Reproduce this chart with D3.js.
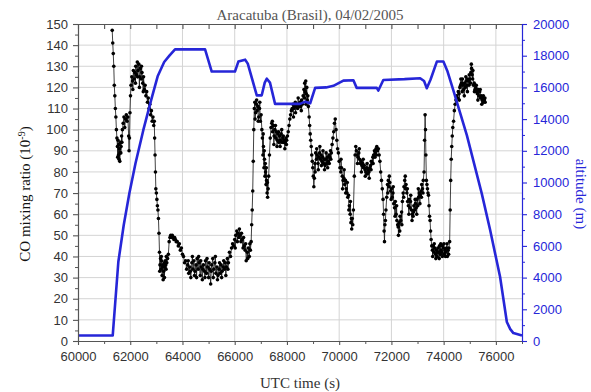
<!DOCTYPE html>
<html>
<head>
<meta charset="utf-8">
<script src="https://cdn.jsdelivr.net/npm/d3@7"></script>
<style>
  body { margin: 0; background: #fff; }
  .tick text { font-family: "Liberation Sans", Arial, sans-serif; font-size: 13px; }
</style>
</head>
<body>
<svg id="chart" width="591" height="392"></svg>
<script>
// axis ranges and tick labels
const timeDomain = [60000, 77000];
const coDomain = [0, 150];
const altDomain = [0, 20000];
const timeTicks = [60000, 62000, 64000, 66000, 68000, 70000, 72000, 74000, 76000];
const timeMinor = [61000, 63000, 65000, 67000, 69000, 71000, 73000, 75000, 77000];
const coTicks = [0, 10, 20, 30, 40, 50, 60, 70, 80, 90, 100, 110, 120, 130, 140, 150];
const coMinor = [5, 15, 25, 35, 45, 55, 65, 75, 85, 95, 105, 115, 125, 135, 145];
const altTicks = [0, 2000, 4000, 6000, 8000, 10000, 12000, 14000, 16000, 18000, 20000];
const altMinor = [1000, 3000, 5000, 7000, 9000, 11000, 13000, 15000, 17000, 19000];

// flight altitude (m) vs UTC time (s)
const altitude = [
  [60000, 350], [61330, 350], [61545, 5000], [61750, 7300], [61965, 9300], [62200, 11200],
  [62500, 13300], [62800, 15200], [63050, 16700], [63300, 17600], [63500, 18000], [63715, 18400],
  [64865, 18400], [65120, 17000], [66010, 17000], [66140, 17630], [66400, 17750], [66500, 17500],
  [66845, 15500], [67035, 15500], [67150, 16300], [67230, 16550], [67350, 16300], [67545, 14960],
  [68500, 14960], [68700, 15100], [68890, 15000], [69080, 15970], [69500, 16000], [69780, 16100],
  [70160, 16430], [70545, 16450], [70670, 15970], [71440, 15970], [71500, 15800], [71690, 16470],
  [72500, 16520], [73100, 16580], [73250, 16400], [73355, 15950], [73500, 16500], [73740, 17630],
  [73990, 17630], [74150, 17000], [74375, 15800], [74890, 12970], [75460, 9300], [75780, 7000],
  [76160, 4050], [76420, 1200], [76550, 750], [76670, 500], [77000, 350]
];

// CO mixing ratio (1e-9) vs UTC time (s)
const coSeries = [
  [61310,147],[61330,141],[61350,136],[61370,130],[61390,121],[61410,116],[61430,110],[61450,106],[61470,100],[61490,96],
  [61510,92],[61530,95],[61550,88],[61570,86],[61590,91],[61610,89],[61630,94],[61650,92],[61670,97],
  [61700,100],[61730,103],[61760,106],[61790,101],[61820,105],[61850,107],[61880,104],[61910,106],
  [61940,97],[61955,90],[61970,96],
  [61990,108],[62010,116],[62030,121],[62060,125],[62090,123],[62120,128],[62150,124],[62180,127],[62210,130],[62240,126],
  [62270,132],[62300,128],[62330,131],[62360,125],[62390,129],[62420,124],[62450,127],
  [62480,122],[62510,125],[62540,119],[62570,121],[62600,116],[62630,118],[62660,113],[62690,115],[62720,110],[62750,112],
  [62780,107],[62810,109],[62840,104],[62870,106],[62900,102],[62920,104],
  [62935,96],[62950,88],[62965,80],[62980,72],[63000,70],[63020,67],[63040,64],[63060,62],[63080,58],[63100,51],
  [63120,42],[63140,36],[63160,39],[63180,34],[63200,38],[63220,31],[63240,35],[63260,29],[63280,33],[63300,37],
  [63320,35],[63340,38],[63360,36],[63380,40],[63400,37],[63430,39],[63460,41],
  [63490,47],[63520,49],[63550,50],[63580,49],[63610,50],[63640,49],[63670,48],[63700,49],[63730,48],[63760,47],[63800,47],
  [63840,45],[63880,46],[63920,43],[63960,44],[64000,41],[64040,40],[64080,37],[64120,38],[64160,34],[64200,36],
  [64240,32],[64280,35],[64320,30],[64360,37],[64400,34],[64440,38],[64480,33],[64520,36],[64560,39],[64600,34],
  [64640,37],[64680,31],[64720,35],[64760,29],[64800,36],[64840,33],[64880,38],[64920,32],[64960,35],[65000,30],
  [65040,34],[65080,27],[65120,36],[65160,39],[65200,34],[65240,37],[65280,32],[65320,35],[65360,31],[65400,34],
  [65440,32],[65480,36],[65520,33],[65560,35],[65600,34],[65640,37],[65680,35],[65720,39],[65760,37],[65800,42],
  [65840,40],[65880,44],[65920,46],[65960,45],[66000,48],[66040,50],[66080,52],[66120,51],[66160,49],[66200,50],
  [66240,47],[66280,48],[66320,44],[66360,45],[66400,43],[66440,38],[66480,42],[66520,44],[66560,40],[66600,43],
  [66630,47],[66650,55],[66670,62],[66690,71],
  [66710,85],[66730,100],[66750,110],[66770,113],[66800,108],[66830,112],[66860,109],[66890,111],[66920,106],[66950,110],
  [66980,104],[67010,107],
  [67040,100],[67060,96],[67080,88],[67100,92],[67120,82],[67140,86],[67160,78],[67180,80],[67200,74],[67220,76],
  [67240,70],[67260,68],[67280,72],[67300,78],
  [67330,88],[67360,96],[67390,101],[67420,103],[67450,99],[67480,102],[67510,97],[67540,100],[67570,96],[67600,99],
  [67630,95],[67660,98],[67690,94],[67720,97],[67750,95],[67780,98],[67810,94],[67840,96],[67870,94],[67900,95],
  [67930,94],[67960,96],[67990,95],[68020,97],[68050,99],
  [68080,102],[68110,105],[68140,107],[68170,109],[68200,110],[68230,112],[68260,110],[68290,111],[68320,113],[68350,111],
  [68380,112],[68410,110],[68440,112],[68470,111],[68500,113],[68530,111],[68560,114],[68590,112],[68620,116],[68650,119],
  [68680,122],[68700,118],[68720,123],[68740,117],[68760,120],[68780,114],[68800,116],[68820,111],
  [68850,106],[68870,102],[68890,98],[68910,95],[68930,92],[68950,88],[68970,85],[68990,82],[69010,78],[69030,73],[69050,77],
  [69070,84],[69100,89],[69130,86],[69160,88],[69190,84],[69220,87],[69250,89],[69280,86],[69310,88],[69340,85],
  [69370,87],[69400,84],[69430,86],[69460,83],[69490,86],[69520,84],[69550,87],[69580,85],[69610,88],[69640,87],
  [69670,90],[69700,89],[69730,93],
  [69760,96],[69790,99],[69820,103],[69850,105],[69880,100],[69910,95],[69940,91],[69970,89],[70000,85],[70030,82],
  [70060,80],[70090,82],[70120,78],[70150,76],[70180,77],[70210,74],[70240,76],[70270,72],[70300,70],[70330,68],
  [70360,69],[70390,64],[70420,60],[70450,56],[70480,53],[70500,58],[70520,55],[70545,62],
  [70580,78],[70610,88],[70635,92],[70660,90],[70690,88],[70720,87],[70750,89],[70780,86],[70810,84],[70840,85],
  [70870,83],[70900,84],[70930,82],[70960,83],[70990,81],[71020,80],[71050,82],[71080,79],[71110,81],[71140,80],
  [71170,82],[71200,83],[71230,85],[71260,84],[71290,87],[71320,88],[71350,90],[71380,89],[71410,91],[71440,92],
  [71470,90],[71500,91],[71530,88],[71560,85],[71590,80],[71620,76],
  [71650,72],[71680,67],[71700,60],[71720,52],[71735,47],[71750,55],[71770,57],[71790,62],
  [71820,68],[71850,74],[71880,76],[71910,73],[71940,75],[71970,71],[72000,72],[72030,68],[72060,70],[72090,65],
  [72120,63],[72150,66],[72180,60],[72210,57],[72240,55],[72270,50],[72300,56],[72330,59],[72360,57],[72390,61],
  [72420,66],[72450,70],[72480,73],[72510,76],[72530,78],[72560,74],[72590,70],[72620,66],[72650,64],[72680,67],
  [72710,63],[72740,69],[72770,62],[72800,60],[72830,59],[72860,64],[72890,62],[72920,65],[72950,63],[72980,67],
  [73010,64],[73040,68],[73070,70],[73100,69],[73130,71],[73160,74],[73190,72],[73220,76],[73250,80],
  [73270,95],[73290,107],[73305,100],[73320,88],[73340,76],[73360,74],[73380,72],[73400,70],[73420,69],[73440,64],
  [73460,59],[73480,57],[73500,52],[73520,48],[73545,45],
  [73570,43],[73600,45],[73630,42],[73660,44],[73690,41],[73720,43],[73750,40],[73780,44],[73810,42],[73840,45],
  [73870,41],[73900,43],[73930,42],[73960,45],[73990,44],[74020,41],[74050,43],[74080,42],[74110,44],[74140,40],
  [74170,43],[74200,44],[74230,47],
  [74250,62],[74270,76],[74290,86],[74310,92],[74330,97],[74350,101],[74380,104],[74410,109],[74440,112],[74470,114],
  [74500,116],[74530,115],[74560,118],[74590,117],[74620,120],[74650,121],[74680,122],[74710,118],[74740,121],[74770,119],
  [74800,122],[74830,120],[74860,123],[74890,121],[74920,124],[74950,123],[74980,126],[75010,124],[75040,127],[75070,129],
  [75090,126],[75110,124],[75140,121],[75170,122],[75200,119],[75230,120],[75260,118],[75290,117],[75320,119],[75350,116],
  [75380,118],[75410,115],[75440,116],[75470,114],[75500,115],[75530,113],[75560,114],[75590,113]
];

// extra CO samples read from the noisier stretches
const coExtra = [
  [61520,87],[61560,93],[61600,85],[61640,89],[61680,94],
  [62100,119],[62200,122],[62280,125],[62350,120],[62430,130],[62500,118],
  [63130,33],[63190,40],[63250,36],[63310,30],[63370,34],
  [64220,38],[64300,33],[64380,40],[64460,31],[64540,30],[64620,40],[64700,38],[64780,34],[64860,30],[64940,39],
  [65020,37],[65100,33],[65180,30],[65260,40],[65340,29],[65420,37],[65500,30],[65580,38],[65660,31],[65740,34],
  [66020,44],[66100,47],[66180,53],[66260,51],[66340,49],[66420,46],[66500,39],[66580,46],
  [66780,105],[66840,114],[66900,104],[66960,113],
  [67090,98],[67130,90],[67170,84],[67210,82],[67250,75],
  [67440,104],[67500,93],[67560,102],[67620,92],[67680,99],[67740,92],[67800,100],[67860,97],[67920,91],[67980,93],
  [68250,106],[68330,108],[68430,115],[68550,109],[68670,115],[68730,112],
  [69080,80],[69140,91],[69200,81],[69260,92],[69320,83],[69380,90],[69440,81],[69500,89],[69560,82],[69620,84],[69680,86],
  [70070,86],[70130,72],[70190,81],[70250,70],[70310,75],[70370,62],[70430,66],[70470,58],
  [70700,84],[70770,91],[70850,80],[70920,86],[71000,78],[71070,84],[71150,77],[71220,81],[71300,84],[71370,87],[71430,88],
  [71860,70],[71920,78],[71990,67],[72070,73],[72140,59],[72200,64],[72260,54],[72320,52],[72400,55],[72470,68],
  [72540,72],[72610,72],[72670,60],[72730,66],[72790,57],[72850,61],[72910,67],[72970,60],[73030,72],[73090,65],
  [73150,68],[73210,70],
  [73580,40],[73640,46],[73700,39],[73770,42],[73830,39],[73890,46],[73950,40],[74010,46],[74070,40],[74130,46],[74190,41],
  [74600,114],[74660,124],[74720,124],[74790,116],[74850,125],[74910,118],[74970,121],[75030,122],[75060,131],[75120,128],
  [75180,118],[75250,121],[75310,114],[75400,119],[75460,112],[75520,116],[75580,115]
];

const coAll = coSeries.concat(coExtra).sort((a, b) => a[0] - b[0]);

const svg = d3.select('#chart');
const mLeft = 78, mRight = 522, mTop = 24, mBottom = 341;
const blue = '#2626d8';

const x = d3.scaleLinear().domain(timeDomain).range([mLeft, mRight]);
const yCO = d3.scaleLinear().domain(coDomain).range([mBottom, mTop]);
const yAlt = d3.scaleLinear().domain(altDomain).range([mBottom, mTop]);

// grid
svg.append('g').selectAll('line').data(coTicks.slice(1, -1)).enter().append('line')
  .attr('x1', mLeft).attr('x2', mRight)
  .attr('y1', d => yCO(d)).attr('y2', d => yCO(d))
  .attr('stroke', '#d4d4d4').attr('stroke-width', 1);
svg.append('g').selectAll('line').data(timeTicks.slice(1)).enter().append('line')
  .attr('y1', mTop).attr('y2', mBottom)
  .attr('x1', d => x(d)).attr('x2', d => x(d))
  .attr('stroke', '#d4d4d4').attr('stroke-width', 1);

// CO data: thin line plus dots
const coLine = d3.line().x(d => x(d[0])).y(d => yCO(d[1]));
svg.append('path').datum(coAll)
  .attr('d', coLine).attr('fill', 'none')
  .attr('stroke', '#111').attr('stroke-width', 0.8);
svg.append('g').selectAll('circle').data(coAll).enter().append('circle')
  .attr('cx', d => x(d[0])).attr('cy', d => yCO(d[1]))
  .attr('r', 1.8).attr('fill', '#000');

// altitude
const altLine = d3.line().x(d => x(d[0])).y(d => yAlt(d[1]));
svg.append('path').datum(altitude)
  .attr('d', altLine).attr('fill', 'none')
  .attr('stroke', blue).attr('stroke-width', 2.6)
  .attr('stroke-linejoin', 'round');

// axes
function styleAxis(g, color, textColor) {
  g.select('.domain').attr('stroke', color).attr('stroke-width', 1.2);
  g.selectAll('.tick line').attr('stroke', color).attr('stroke-width', 1.1);
  g.selectAll('.tick text').attr('fill', textColor);
}

svg.append('g').attr('transform', `translate(${mLeft},0)`)
  .call(d3.axisLeft(yCO).tickValues(coMinor).tickSize(3).tickFormat(''))
  .call(g => { g.select('.domain').remove(); g.selectAll('line').attr('stroke', '#555'); });
svg.append('g').attr('transform', `translate(${mLeft},0)`)
  .call(d3.axisLeft(yCO).tickValues(coTicks).tickSize(5).tickPadding(5).tickSizeOuter(0))
  .call(g => styleAxis(g, '#555', '#333'));

svg.append('g').attr('transform', `translate(0,${mBottom})`)
  .call(d3.axisBottom(x).tickValues(timeMinor).tickSize(3).tickFormat(''))
  .call(g => { g.select('.domain').remove(); g.selectAll('line').attr('stroke', '#555'); });
svg.append('g').attr('transform', `translate(0,${mBottom})`)
  .call(d3.axisBottom(x).tickValues(timeTicks).tickSize(4).tickPadding(7).tickSizeOuter(0).tickFormat(d3.format('d')))
  .call(g => styleAxis(g, '#555', '#333'));

svg.append('g').attr('transform', `translate(0,${mTop})`)
  .call(d3.axisTop(x).tickValues(timeMinor.concat(timeTicks)).tickSize(-5).tickSizeOuter(0).tickFormat(''))
  .call(g => styleAxis(g, '#555', '#333'));

svg.append('g').attr('transform', `translate(${mRight},0)`)
  .call(d3.axisRight(yAlt).tickValues(altMinor).tickSize(3).tickFormat(''))
  .call(g => { g.select('.domain').remove(); g.selectAll('line').attr('stroke', blue); });
svg.append('g').attr('transform', `translate(${mRight},0)`)
  .call(d3.axisRight(yAlt).tickValues(altTicks).tickSize(5).tickPadding(6).tickSizeOuter(0).tickFormat(d3.format('d')))
  .call(g => styleAxis(g, blue, blue));

// titles
const serif = '"Liberation Serif", "Times New Roman", serif';
svg.append('text').attr('x', 310).attr('y', 20).attr('text-anchor', 'middle')
  .attr('font-family', serif).attr('font-size', 15).attr('fill', '#555')
  .text('Aracatuba (Brasil), 04/02/2005');

svg.append('text').attr('x', 300).attr('y', 388).attr('text-anchor', 'middle')
  .attr('font-family', serif).attr('font-size', 15).attr('fill', '#333')
  .text('UTC time (s)');

const yl = svg.append('text').attr('transform', 'translate(30,194) rotate(-90)')
  .attr('text-anchor', 'middle').attr('font-family', serif).attr('font-size', 15).attr('fill', '#111');
yl.append('tspan').text('CO mixing ratio (10');
yl.append('tspan').attr('dy', -5).attr('font-size', 10).text('-9');
yl.append('tspan').attr('dy', 5).text(')');

svg.append('text').attr('transform', 'translate(576,194) rotate(90)')
  .attr('text-anchor', 'middle').attr('font-family', serif).attr('font-size', 15).attr('fill', blue)
  .text('altitude (m)');
</script>
</body>
</html>
